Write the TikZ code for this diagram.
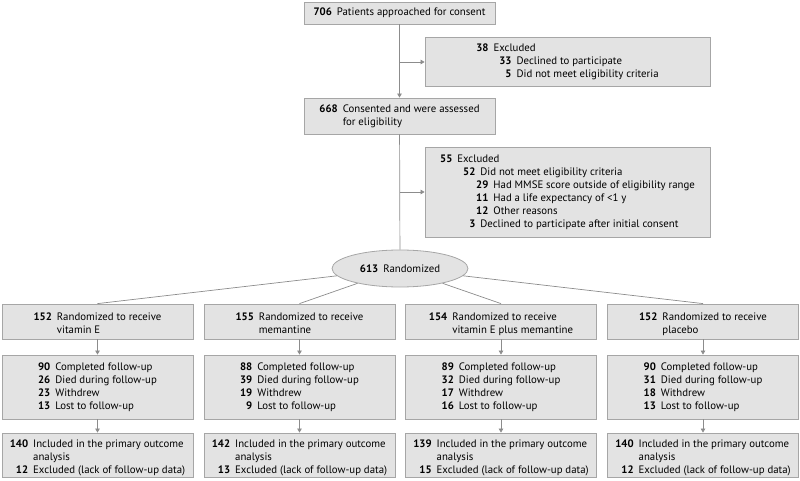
\documentclass[tikz,border=0pt]{standalone}
\usepackage{fontspec}
\usepackage{calc}
\setmainfont{PT Sans}
\usetikzlibrary{arrows.meta,shapes.geometric}
\definecolor{boxfill}{HTML}{E3E3E3}
\definecolor{boxline}{HTML}{A6A6A6}
\definecolor{conn}{HTML}{8C8C8C}
\newcommand\Lrow[3]{\makebox[#1][r]{\textbf{#2}}\hspace{5pt}#3}
\newcommand\Wtwo{\widthof{\textbf{00}}}
\newcommand\Wthree{\widthof{\textbf{000}}}
\newcommand\Dn[1]{\raisebox{0pt}[\height+5pt][\depth]{\begin{tabular}{@{}l@{}}#1\end{tabular}}}
\begin{document}
\begin{tikzpicture}[x=1pt,y=-1pt,
  every node/.style={font=\fontsize{10.8}{13}\selectfont},
  box/.style={draw=boxline,fill=boxfill,line width=0.8pt,rectangle,minimum width=191pt,align=left,inner sep=0pt},
  exbox/.style={box,minimum width=285pt},
  oval/.style={draw=boxline,fill=boxfill,line width=0.8pt,ellipse,minimum width=136pt,minimum height=37pt,inner sep=0pt},
  line/.style={draw=conn,line width=0.7pt},
  arr/.style={line,-{Triangle[width=4.5pt,length=4pt]}}]
\useasboundingbox (0,0) rectangle (800,481);
% top part
\node[box,minimum height=22pt] (top) at (399.5,13) {\Lrow{\Wthree}{706}{Patients approached for consent}};
\node[exbox,minimum height=49pt] (ex1) at (567.5,61.5) {\Lrow{\Wtwo}{38}{Excluded}\\
\Lrow{\Wtwo+23pt}{33}{Declined to participate}\\
\Lrow{\Wtwo+23pt}{5}{Did not meet eligibility criteria}};
\node[box,minimum height=36pt] (cons) at (399.5,116) {\Lrow{\Wthree}{668}{Consented and were assessed}\\
\Lrow{\Wthree}{}{for eligibility}};
\node[exbox,minimum height=90pt] (ex2) at (567.5,192) {\Lrow{\Wtwo}{55}{Excluded}\\
\Lrow{\Wtwo+23pt}{52}{Did not meet eligibility criteria}\\
\Lrow{\Wtwo+36pt}{29}{Had MMSE score outside of eligibility range}\\
\Lrow{\Wtwo+36pt}{11}{Had a life expectancy of <1 y}\\
\Lrow{\Wtwo+36pt}{12}{Other reasons}\\
\Lrow{\Wtwo+23pt}{3}{Declined to participate after initial consent}};
\node[oval] (rand) at (400,268.5) {\textbf{613}\hspace{5pt}Randomized};
\coordinate (b1) at (400,62);
\coordinate (b2) at (400,192);
% row 1
\node[box,minimum height=35pt] (r1a) at (97.5,321.5) {\Dn{\Lrow{\Wthree}{152}{Randomized to receive}\\ \Lrow{\Wthree}{}{vitamin E}}};
\node[box,minimum height=35pt] (r1b) at (299.5,321.5) {\Dn{\Lrow{\Wthree}{155}{Randomized to receive}\\ \Lrow{\Wthree}{}{memantine}}};
\node[box,minimum height=35pt] (r1c) at (501,321.5) {\Dn{\Lrow{\Wthree}{154}{Randomized to receive}\\ \Lrow{\Wthree}{}{vitamin E plus memantine}}};
\node[box,minimum height=35pt] (r1d) at (703,321.5) {\Dn{\Lrow{\Wthree}{152}{Randomized to receive}\\ \Lrow{\Wthree}{}{placebo}}};
% row 2
\node[box,minimum height=64pt] (r2a) at (97.5,387) {\Lrow{\Wtwo}{90}{Completed follow-up}\\ \Lrow{\Wtwo}{26}{Died during follow-up}\\ \Lrow{\Wtwo}{23}{Withdrew}\\ \Lrow{\Wtwo}{13}{Lost to follow-up}};
\node[box,minimum height=64pt] (r2b) at (299.5,387) {\Lrow{\Wtwo}{88}{Completed follow-up}\\ \Lrow{\Wtwo}{39}{Died during follow-up}\\ \Lrow{\Wtwo}{19}{Withdrew}\\ \Lrow{\Wtwo}{9}{Lost to follow-up}};
\node[box,minimum height=64pt] (r2c) at (501,387) {\Lrow{\Wtwo}{89}{Completed follow-up}\\ \Lrow{\Wtwo}{32}{Died during follow-up}\\ \Lrow{\Wtwo}{17}{Withdrew}\\ \Lrow{\Wtwo}{16}{Lost to follow-up}};
\node[box,minimum height=64pt] (r2d) at (703,387) {\Lrow{\Wtwo}{90}{Completed follow-up}\\ \Lrow{\Wtwo}{31}{Died during follow-up}\\ \Lrow{\Wtwo}{18}{Withdrew}\\ \Lrow{\Wtwo}{13}{Lost to follow-up}};
% row 3
\node[box,minimum height=38pt] (r3a) at (97.5,455) {\Dn{\Lrow{\Wthree}{140}{Included in the primary outcome}\\ \Lrow{\Wthree}{}{analysis}\\ \Lrow{\Wthree}{12}{Excluded (lack of follow-up data)}}};
\node[box,minimum height=38pt] (r3b) at (299.5,455) {\Dn{\Lrow{\Wthree}{142}{Included in the primary outcome}\\ \Lrow{\Wthree}{}{analysis}\\ \Lrow{\Wthree}{13}{Excluded (lack of follow-up data)}}};
\node[box,minimum height=38pt] (r3c) at (501,455) {\Dn{\Lrow{\Wthree}{139}{Included in the primary outcome}\\ \Lrow{\Wthree}{}{analysis}\\ \Lrow{\Wthree}{15}{Excluded (lack of follow-up data)}}};
\node[box,minimum height=38pt] (r3d) at (703,455) {\Dn{\Lrow{\Wthree}{140}{Included in the primary outcome}\\ \Lrow{\Wthree}{}{analysis}\\ \Lrow{\Wthree}{12}{Excluded (lack of follow-up data)}}};
% connectors
\draw[arr] (top) -- (cons);
\draw[arr] (b1) -- (ex1.west |- b1);
\draw[line] (cons) -- (rand);
\draw[arr] (b2) -- (ex2.west |- b2);
\foreach \c in {a,b,c,d}{
  \draw[line] (rand) -- (r1\c.north);
  \draw[arr] (r1\c) -- (r2\c);
  \draw[arr] (r2\c) -- (r3\c);
}
\end{tikzpicture}
\end{document}
